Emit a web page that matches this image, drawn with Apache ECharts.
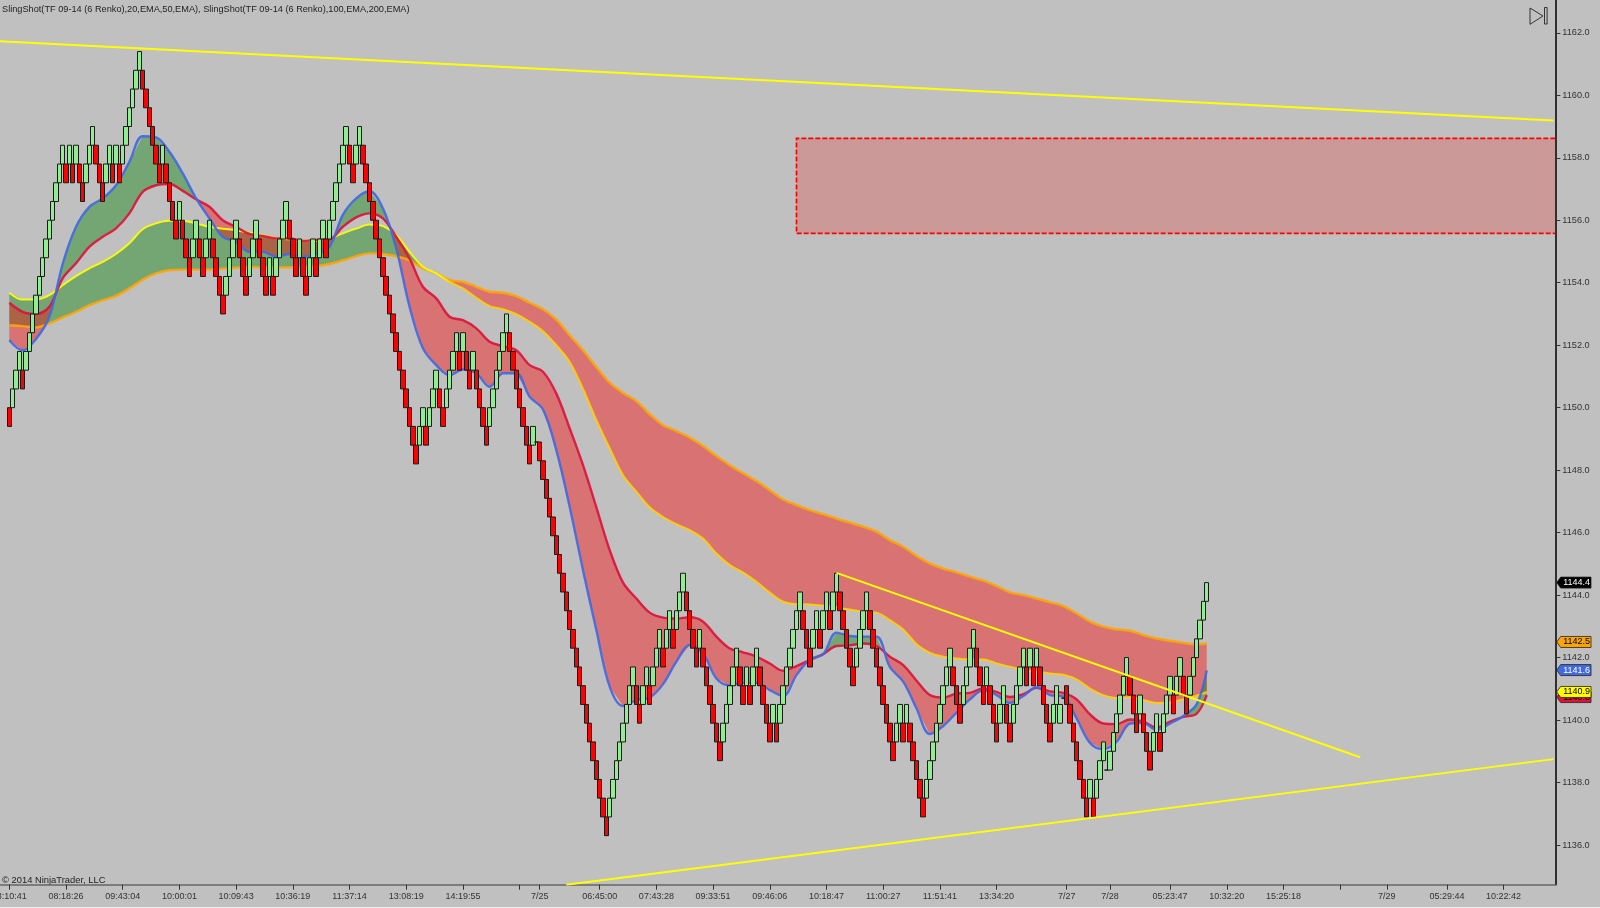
<!DOCTYPE html>
<html><head><meta charset="utf-8"><title>SlingShot Renko</title>
<style>html,body{margin:0;padding:0;background:#f0f0f0;overflow:hidden}#c{width:1600px;height:907px}</style>
<script src="https://cdn.jsdelivr.net/npm/echarts@6/dist/echarts.min.js"></script>
</head><body><div id="c"></div>
<script>
// top edge of each Renko body
const brickTop = [
1150.0,1150.6,1151.2,1151.8,1151.2,1151.8,1152.4,1153.0,1153.6,1154.2,
1154.8,1155.4,1156.0,1156.6,1157.2,1157.8,1158.4,1157.8,1158.4,1157.8,
1158.4,1157.8,1157.2,1157.8,1158.4,1159.0,1158.4,1157.8,1157.2,1157.8,
1158.4,1157.8,1158.4,1157.8,1158.4,1159.0,1159.6,1160.2,1160.8,1161.4,
1160.8,1160.2,1159.6,1159.0,1158.4,1157.8,1158.4,1157.8,1157.2,1156.6,
1156.0,1156.6,1156.0,1155.4,1154.8,1155.4,1156.0,1155.4,1154.8,1155.4,
1156.0,1155.4,1154.8,1154.2,1153.6,1154.2,1154.8,1155.4,1156.0,1155.4,
1154.8,1154.2,1154.8,1155.4,1156.0,1155.4,1154.8,1154.2,1154.8,1154.2,
1154.8,1155.4,1156.0,1156.6,1156.0,1155.4,1154.8,1155.4,1154.8,1154.2,
1154.8,1155.4,1154.8,1155.4,1156.0,1155.4,1156.0,1156.6,1157.2,1157.8,
1158.4,1159.0,1158.4,1157.8,1158.4,1159.0,1158.4,1157.8,1157.2,1156.6,
1156.0,1155.4,1154.8,1154.2,1153.6,1153.0,1152.4,1151.8,1151.2,1150.6,
1150.0,1149.4,1148.8,1149.4,1150.0,1149.4,1150.0,1150.6,1151.2,1150.6,
1150.0,1150.6,1151.2,1151.8,1152.4,1151.8,1152.4,1151.8,1151.2,1151.8,
1151.2,1150.6,1150.0,1149.4,1150.0,1150.6,1151.2,1151.8,1152.4,1153.0,
1152.4,1151.8,1151.2,1150.6,1150.0,1149.4,1148.8,1149.4,1148.9,1148.9,
1148.3,1147.7,1147.1,1146.5,1145.9,1145.3,1144.7,1144.1,1143.5,1142.9,
1142.3,1141.7,1141.1,1140.5,1139.9,1139.3,1138.7,1138.1,1137.5,1136.9,
1137.5,1138.1,1138.7,1139.3,1139.9,1140.5,1141.1,1141.7,1141.1,1140.5,
1141.1,1141.7,1141.1,1141.7,1142.3,1142.9,1142.3,1142.9,1143.5,1142.9,
1143.5,1144.1,1144.7,1144.1,1143.5,1142.9,1142.3,1142.9,1142.3,1141.7,
1141.1,1140.5,1139.9,1139.3,1139.9,1140.5,1141.1,1141.7,1142.3,1141.7,
1141.1,1141.7,1141.1,1141.7,1142.3,1141.7,1141.1,1140.5,1139.9,1140.5,
1139.9,1140.5,1141.1,1141.7,1142.3,1142.9,1143.5,1144.1,1143.5,1142.9,
1142.3,1142.9,1143.5,1142.9,1143.5,1144.1,1143.5,1144.1,1144.7,1144.1,
1143.5,1142.9,1142.3,1141.7,1142.3,1142.9,1143.5,1144.1,1143.5,1142.9,
1142.3,1141.7,1141.1,1140.5,1139.9,1139.3,1139.9,1140.5,1139.9,1140.5,
1139.9,1139.3,1138.7,1138.1,1137.5,1138.1,1138.7,1139.3,1139.9,1140.5,
1141.1,1141.7,1142.3,1141.7,1141.1,1140.5,1141.1,1141.7,1142.3,1142.9,
1142.3,1141.7,1141.1,1141.7,1141.1,1140.5,1139.9,1140.5,1141.1,1140.5,
1139.9,1140.5,1141.1,1141.7,1142.3,1141.7,1142.3,1141.7,1142.3,1141.7,
1141.1,1140.5,1139.9,1140.5,1141.1,1140.5,1140.7,1141.1,1140.5,1139.9,
1139.3,1138.7,1138.1,1137.5,1138.1,1137.5,1138.1,1138.7,1139.3,1138.4,
1139.0,1139.6,1140.2,1140.8,1141.4,1142.0,1141.4,1140.8,1140.2,1140.8,
1140.2,1139.6,1139.0,1139.6,1140.2,1139.6,1140.2,1140.8,1141.4,1140.8,
1141.4,1142.0,1141.4,1140.8,1141.4,1142.0,1142.6,1143.2,1143.8,1144.4];
// U = up brick, D = down brick, F = flat session-start bar
const brickDir = "DUUUDUUUUU"+"UUUUUUUDUD"+"UDDUUUDDDU"+"UDUDUUUUUU"+"DDDDDDUDDD"+"DUDDDUUDDU"+"UDDDDUUUUD"+"DDUUUDDDUD"+
"UUUUDDDUDD"+"UUDUUDUUUU"+"UUDDUUDDDD"+"DDDDDDDDDD"+"DDDUUDUUUD"+"DUUUUDUDDU"+"DDDDUUUUUU"+"DDDDDDDUFD"+
"DDDDDDDDDD"+"DDDDDDDDDD"+"UUUUUUUUDD"+"UUDUUUDUUD"+"UUUDDDDUDD"+"DDDDUUUUUD"+"DUDUUDDDDU"+"DUUUUUUUDD"+
"DUUDUUDUUD"+"DDDDUUUUDD"+"DDDDDDUUDU"+"DDDDDUUUUU"+"UUUDDDUUUU"+"DDDUDDDUUD"+"DUUUUDUDUD"+"DDDUUUFDDD"+
"DDDDUDUUUF"+"UUUUUUDDDU"+"DDDUUDUUUD"+"UUDDUUUUUU";
const brickSize = 0.6;

// bar index of every moving-average reading
const emaBars = [0,4,8,12,16,20,24,28,32,36,40,44,48,52,56,60,64,68,72,76,80,84,88,92,96,100,104,108,112,116,120,124,128,132,136,140,144,148,152,156,160,164,168,172,176,180,184,188,192,196,200,204,208,212,216,220,224,228,232,236,240,244,248,252,256,260,264,268,272,276,280,284,288,292,296,300,304,308,312,316,320,324,328,332,336,340,344,348,352,356,359];
const ema20 = [1152.16,1151.84,1152.2,1152.91,1154.6,1155.79,1156.43,1156.70,1157.12,1157.87,1158.69,1158.65,1158.19,1157.5,1156.7,1156.06,1155.47,1155.31,1154.99,
1154.99,1154.83,1154.92,1154.83,1154.92,1155.15,1156.17,1156.7,1156.93,1156.38,1155.1,1153.23,1151.9,1151.36,1151.04,1151.22,1151.1,1150.67,1151.1,1151.1,1150.35,
1149.94,1148.64,1146.83,1144.8,1142.88,1141.07,1140.45,1140.64,1140.72,1141.15,1141.87,1142.4,1142.13,1141.33,1141.11,1141.19,1141.19,1140.96,1140.77,1141.44,
1141.94,1142.11,1142.8,1142.69,1142.67,1142.67,1141.7,1141.23,1140.37,1139.55,1139.81,1140.24,1140.66,1140.96,1140.8,
1140.55,1140.77,1141.05,1140.8,1140.75,1140.05,1139.27,1139.07,1139.31,1139.89,1139.91,1139.68,1139.89,1140.13,1140.51,1141.59];
const ema50 = [1153.36,1153.07,1153.0,1153.23,1154.14,1154.62,1155.15,1155.47,1155.74,1156.22,1156.91,1157.12,1157.16,1156.94,1156.67,1156.43,1156.0,1155.79,1155.56,
1155.5,1155.42,1155.42,1155.34,1155.37,1155.39,1155.79,1156.09,1156.22,1156.06,1155.47,1154.78,1153.87,1153.5,1152.91,1152.8,1152.54,1152.11,1151.97,1151.84,1151.36,
1151.15,1150.45,1149.34,1148.16,1146.81,1145.44,1144.4,1143.89,1143.44,1143.28,1143.25,1143.29,1143.15,1142.67,1142.29,1142.17,1142.03,1141.81,1141.58,1141.73,
1141.92,1142.11,1142.37,1142.39,1142.45,1142.37,1142.03,1141.76,1141.26,1140.8,1140.72,1140.85,1140.87,1141.01,1140.9,
1140.74,1140.83,1141.03,1140.92,1140.87,1140.66,1140.18,1139.89,1139.87,1140.02,1139.95,1139.76,1139.95,1140.1,1140.21,1140.8];
const ema100 = [1153.68,1153.46,1153.46,1153.6,1153.92,1154.21,1154.46,1154.67,1154.92,1155.26,1155.71,1155.9,1155.98,1155.98,1155.9,1155.79,1155.73,1155.68,1155.6,
1155.52,1155.42,1155.39,1155.34,1155.34,1155.42,1155.58,1155.73,1155.86,1155.81,1155.52,1154.99,1154.51,1154.3,1154.03,1153.82,1153.52,1153.25,1153.15,1152.99,1152.75,
1152.45,1152.0,1151.46,1150.6,1149.6,1148.7,1147.84,1147.31,1146.81,1146.5,1146.27,1146.08,1145.81,1145.33,1144.96,1144.72,1144.43,1144.08,1143.79,1143.71,
1143.7,1143.66,1143.6,1143.54,1143.47,1143.44,1143.2,1142.9,1142.43,1142.15,1142.03,1141.97,1141.94,1141.94,1141.81,
1141.71,1141.6,1141.55,1141.49,1141.45,1141.3,1141.01,1140.8,1140.71,1140.73,1140.64,1140.55,1140.57,1140.67,1140.78,1140.9];
const ema200 = [1152.64,1152.61,1152.57,1152.7,1152.89,1153.07,1153.28,1153.44,1153.58,1153.82,1154.1,1154.3,1154.4,1154.42,1154.42,1154.42,1154.45,1154.48,1154.51,
1154.49,1154.49,1154.49,1154.51,1154.53,1154.6,1154.72,1154.85,1154.94,1154.92,1154.85,1154.72,1154.46,1154.3,1154.08,1154.03,1153.87,1153.71,1153.68,1153.57,1153.36,
1153.15,1152.82,1152.32,1151.84,1151.3,1150.8,1150.47,1150.21,1149.79,1149.44,1149.25,1149.04,1148.77,1148.45,1148.16,1147.9,1147.65,1147.36,1147.06,1146.88,
1146.72,1146.59,1146.45,1146.32,1146.19,1146.03,1145.76,1145.55,1145.25,1145.01,1144.85,1144.73,1144.59,1144.46,1144.29,
1144.09,1144.0,1143.89,1143.77,1143.65,1143.41,1143.15,1142.99,1142.9,1142.86,1142.72,1142.61,1142.54,1142.47,1142.42,1142.45];

// x axis
const tickBars = [0,17,34,51,68,85,102,119,136,153,159,177,194,211,228,245,262,279,296,317,330,348,365,382,399,413,431,448];
const tickLabels = ["08:10:41","08:18:26","09:43:04","10:00:01","10:09:43","10:36:19","11:37:14","13:08:19","14:19:55"," ","7/25","06:45:00","07:43:28","09:33:51","09:46:06","10:18:47","11:00:27","11:51:41","13:34:20","7/27","7/28","05:23:47","10:32:20","15:25:18"," ","7/29","05:29:44","10:22:42"];
const priceTicks = [1136,1138,1140,1142,1144,1146,1148,1150,1152,1154,1156,1158,1160,1162];

// drawn objects: [bar, price]
const trendTop = [[-3,1161.73],[463,1159.19]];
const trendMid = [[248,1144.71],[405,1138.81]];
const trendLow = [[167,1134.73],[463,1138.75]];
const zoneBar = 236, zoneHigh = 1158.62, zoneLow = 1155.58;

// last-value tags on the price axis
const tagValues = [1144.4,1142.5,1141.6,1140.8,1140.9];
const tagFill = ["#000000","#FFA500","#4169E1","#DC143C","#FFFF00"];
const tagText = ["#ffffff","#000000","#ffffff","#000000","#000000"];

const PAD = 3, BANDS = 467;
const FONT = '"Liberation Sans", Arial, sans-serif';
const cats = []; for (let k = 0; k < BANDS; k++) cats.push("");
tickBars.forEach((b, n) => { cats[b + PAD] = tickLabels[n]; });

const candle = [];
for (let k = 0; k < PAD; k++) candle.push(['-','-','-','-']);
brickTop.forEach((t, i) => {
  const d = brickDir[i];
  const low = d === 'F' ? t : +(t - brickSize).toFixed(1);
  candle.push(d === 'U' ? [low, t, low, t] : [t, low, low, t]);
});
const pts = arr => arr.map((v, n) => [emaBars[n] + PAD, v]);

function ribbon(fast, slow, upColor, downColor) {
  return {
    type: 'custom', silent: true, z: 1, data: [[PAD, fast[0]]],
    renderItem(params, api) {
      const children = [];
      let top = [], bot = [], sign = null;
      const flush = () => {
        if (top.length > 1) children.push({ type: 'polygon',
          shape: { points: top.concat(bot.slice().reverse()) },
          style: { fill: sign > 0 ? upColor : downColor } });
      };
      for (let n = 0; n < emaBars.length; n++) {
        const k = emaBars[n] + PAD;
        const a = api.coord([k, fast[n]]), b = api.coord([k, slow[n]]);
        const s = fast[n] >= slow[n] ? 1 : -1;
        if (sign !== null && s !== sign) {
          const pk = emaBars[n - 1] + PAD;
          const pa = api.coord([pk, fast[n - 1]]), pb = api.coord([pk, slow[n - 1]]);
          const d0 = pa[1] - pb[1], d1 = a[1] - b[1];
          const t = d0 / (d0 - d1);
          const c = [pa[0] + (a[0] - pa[0]) * t, pa[1] + (a[1] - pa[1]) * t];
          top.push(c); bot.push(c); flush();
          top = [c]; bot = [c];
        }
        sign = s; top.push(a); bot.push(b);
      }
      flush();
      return { type: 'group', children };
    }
  };
}
const lineSeries = (name, arr, color, z, width) => ({ name, type: 'line', data: pts(arr), symbol: 'none', z,
  silent: true, smooth: 0.35, lineStyle: { color, width: width || 2.4, opacity: 0.92 } });
const trend = (name, arr) => ({ name, type: 'line', data: arr.map(p => [p[0] + PAD, p[1]]), symbol: 'none', z: 8,
  silent: true, lineStyle: { color: '#FFFF00', width: 2 } });
// the yellow line reads more orange where it edges the red ribbon
const yellowEdge = { type: 'linear', x: 0, y: 0, x2: 1, y2: 0, colorStops: [
  { offset: 0, color: '#FFFF00' }, { offset: 0.36, color: '#FFFF00' }, { offset: 0.37, color: '#FFCF00' }, { offset: 1, color: '#FFCF00' } ] };

const chart = echarts.init(document.getElementById('c'), null, { renderer: 'canvas' });
chart.setOption({
  animation: false,
  backgroundColor: '#C0C0C0',
  title: { text: 'SlingShot(TF 09-14 (6 Renko),20,EMA,50,EMA), SlingShot(TF 09-14 (6 Renko),100,EMA,200,EMA)',
    left: 2, top: 5, padding: 0, textStyle: { fontFamily: FONT, fontSize: 9.2, fontWeight: 'normal', color: '#222' } },
  grid: { left: -2.37, width: 1557.67, top: 0, height: 884.7, containLabel: false, outerBoundsMode: 'none' },
  xAxis: { type: 'category', data: cats, boundaryGap: true,
    axisLine: { show: true, lineStyle: { color: '#666', width: 1.5 } },
    axisTick: { show: true, alignWithLabel: true, length: 5, lineStyle: { color: '#333' },
      interval: (i) => cats[i] !== '' },
    axisLabel: { show: true, interval: (i) => cats[i] !== '', margin: 7, hideOverlap: false,
      fontFamily: FONT, fontSize: 9, color: '#333' },
    splitLine: { show: false } },
  yAxis: { type: 'value', position: 'right', min: 1134.73, max: 1163.05, scale: true,
    axisLine: { show: true, lineStyle: { color: '#000', width: 1.5 } },
    axisTick: { show: true, length: 5, lineStyle: { color: '#333' }, customValues: priceTicks },
    axisLabel: { show: true, margin: 7, fontFamily: FONT, fontSize: 9.2, color: '#333', customValues: priceTicks,
      showMinLabel: true, showMaxLabel: true, formatter: v => Number(v).toFixed(1) },
    splitLine: { show: false } },
  graphic: [
    { type: 'text', left: 2, top: 876, style: { text: '© 2014 NinjaTrader, LLC', font: '9.4px ' + FONT, fill: '#222' } },
    { type: 'polygon', shape: { points: [[1530, 8], [1543, 16], [1530, 24.3]] }, style: { fill: 'none', stroke: '#333', lineWidth: 1 } },
    { type: 'rect', shape: { x: 1544.5, y: 7.5, width: 2.6, height: 16.5 }, style: { fill: 'none', stroke: '#333', lineWidth: 1 } }
  ],
  series: [
    { type: 'custom', silent: true, z: 1, data: [[zoneBar + PAD, zoneHigh]],
      renderItem(params, api) {
        const a = api.coord([zoneBar + PAD, zoneHigh]), b = api.coord([zoneBar + PAD, zoneLow]);
        const r = params.coordSys.x + params.coordSys.width;
        return { type: 'group', children: [
          { type: 'rect', shape: { x: a[0], y: a[1], width: r - a[0], height: b[1] - a[1] },
            style: { fill: 'rgba(255,0,0,0.2)' } },
          { type: 'polyline', shape: { points: [[r, a[1]], [a[0], a[1]], [a[0], b[1]], [r, b[1]]] },
            style: { fill: 'none', stroke: '#FF0000', lineWidth: 1.6, lineDash: [5, 2] } }
        ] };
      } },
    ribbon(ema100, ema200, 'rgba(0,128,0,0.4)', 'rgba(255,0,0,0.4)'),
    ribbon(ema20, ema50, 'rgba(0,128,0,0.4)', 'rgba(255,0,0,0.4)'),
    lineSeries('EMA 200', ema200, '#FFA500', 2),
    lineSeries('EMA 100', ema100, yellowEdge, 2, 2),
    lineSeries('EMA 50', ema50, '#DC143C', 2),
    lineSeries('EMA 20', ema20, '#4169E1', 2),
    { name: 'Renko', type: 'candlestick', data: candle, barWidth: 5, z: 5, silent: true, large: false, progressive: 0,
      itemStyle: { color: '#90EE90', color0: '#FF0000', borderColor: '#1a1a1a', borderColor0: '#1a1a1a', borderColorDoji: '#1a1a1a', borderWidth: 1 } },
    trend('Trend top', trendTop), trend('Trend mid', trendMid), trend('Trend low', trendLow),
    { type: 'custom', silent: true, z: 10, data: [[PAD, tagValues[0]]],
      renderItem(params, api) {
        const x0 = params.coordSys.x + params.coordSys.width + 1.4, x1 = x0 + 34.3;
        const children = [];
        tagValues.forEach((v, n) => {
          const y = api.coord([PAD, v])[1] + (n === 3 ? 2 : 0);
          children.push({ type: 'polygon',
            shape: { points: [[x0, y], [x0 + 4, y - 5.5], [x1, y - 5.5], [x1, y + 5.5], [x0 + 4, y + 5.5]] },
            style: { fill: tagFill[n], stroke: '#222', lineWidth: 0.8 } });
          children.push({ type: 'text', style: { text: v.toFixed(1), x: x0 + 6.5, y: y, verticalAlign: 'middle',
            font: '9px ' + FONT, fill: tagText[n] } });
        });
        return { type: 'group', children };
      } }
  ]
});
</script></body></html>
